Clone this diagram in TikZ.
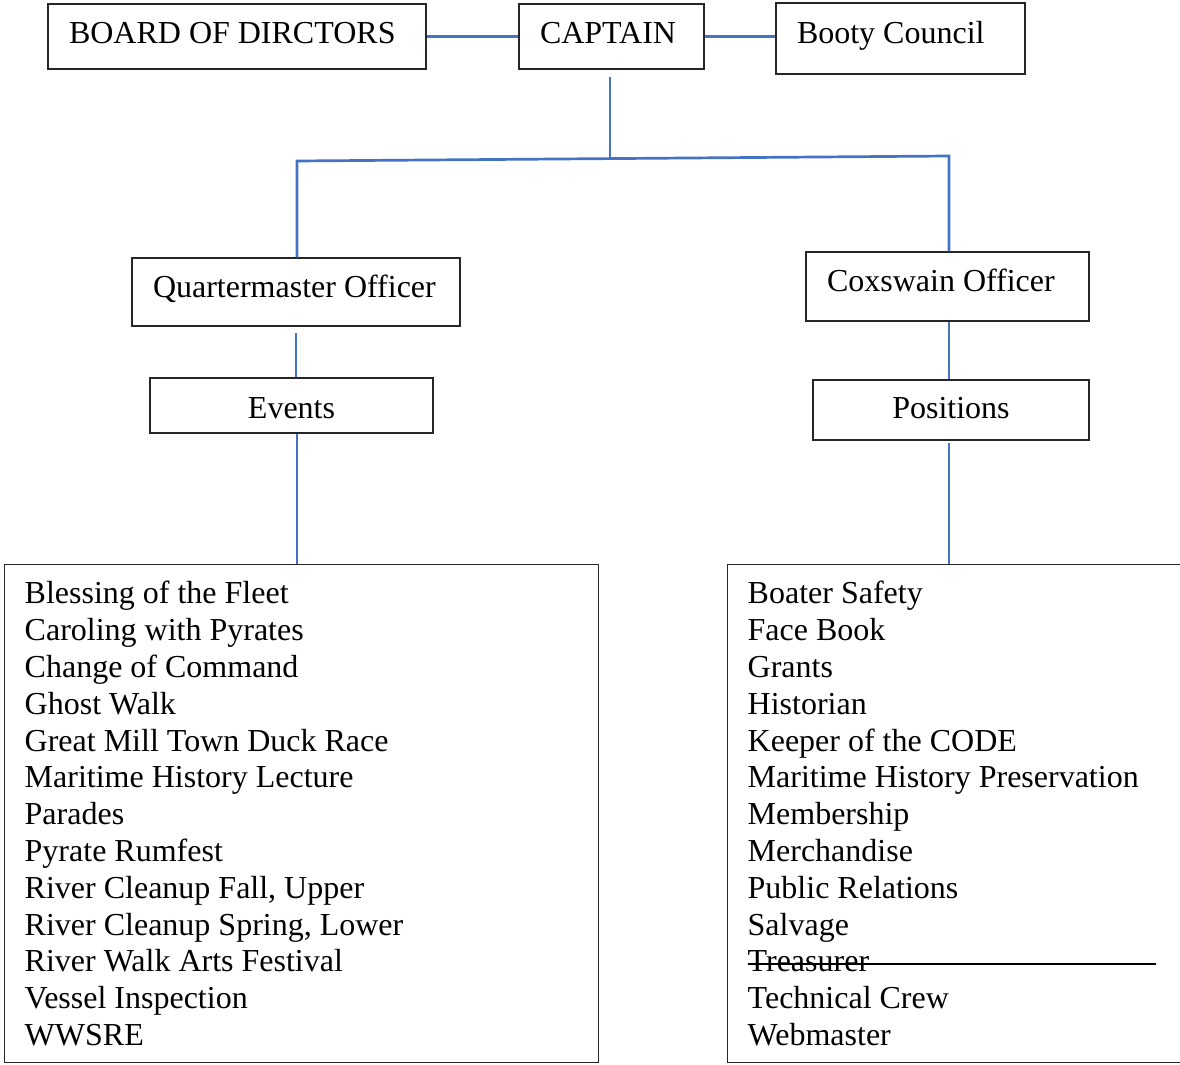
\documentclass[tikz,border=0pt]{standalone}
\usepackage{fontspec}
\setmainfont{Liberation Serif}
\definecolor{linkblue}{RGB}{68,114,196}
\newcommand{\orgfont}{\fontsize{16}{18.4}\selectfont}
\tikzstyle{box} = [rectangle,draw=black!85,line width=0.7pt,inner ysep=0pt,font=\orgfont,text height=0.95em,text depth=0.25em,execute at begin node={\spaceskip=0.25em\relax}]
\tikzstyle{lbox} = [box,inner xsep=10.5pt,align=left]
\tikzstyle{listbox} = [rectangle,draw=black!85,line width=0.7pt,inner xsep=10pt,inner ysep=0pt,align=left,anchor=north west,font=\orgfont,execute at begin node={\spaceskip=0.25em\relax}]
\tikzstyle{link} = [draw=linkblue,line width=1.35pt]

\begin{document}
\begin{tikzpicture}[x=0.5pt,y=-0.5pt]
\useasboundingbox (0,0) rectangle (1180,1065);

% Define nodes
\node[lbox, text width=168pt, minimum height=32.5pt]   (bod) at (237,36.5)   {BOARD OF DIRCTORS};
\node[lbox, text width=71.5pt, minimum height=32.5pt]  (cap) at (611.5,36.5) {CAPTAIN};
\node[lbox, text width=103.5pt, minimum height=35.5pt, text height=0.8em] (bc) at (900.5,38.5) {Booty Council};

\node[lbox, text width=143pt, minimum height=34pt, text height=0.8em]     (qm)  at (296,292)    {Quartermaster Officer};
\node[lbox, text width=120.5pt, minimum height=34.5pt, text height=0.8em] (cox) at (947.5,286.5) {Coxswain Officer};
\node[box, minimum width=141.5pt, minimum height=27.5pt, text height=1.5em] (ev)  at (291.5,405.5) {Events};
\node[box, minimum width=138pt, minimum height=30pt, text height=1.12em]    (pos) at (951,410)     {Positions};

\node[listbox, text width=277pt, minimum height=249pt] (evl) at (4,564) {%
Blessing of the Fleet\\ Caroling with Pyrates\\ Change of Command\\ Ghost Walk\\
Great Mill Town Duck Race\\ Maritime History Lecture\\ Parades\\ Pyrate Rumfest\\
River Cleanup Fall, Upper\\ River Cleanup Spring, Lower\\ River Walk Arts Festival\\
Vessel Inspection\\ WWSRE};
\node[listbox, text width=214pt, minimum height=249pt] (posl) at (727,564) {%
Boater Safety\\ Face Book\\ Grants\\ Historian\\ Keeper of the CODE\\
Maritime History Preservation\\ Membership\\ Merchandise\\ Public Relations\\ Salvage\\
\leavevmode\rlap{\rule[3.5pt]{204pt}{0.8pt}}Treasurer\\ Technical Crew\\ Webmaster};

% Edges
\coordinate (barL) at (297,161);
\coordinate (barR) at (949,156);
\path (barL) -- (barR) coordinate[pos=0.480] (barM);

\draw[link] (bod.east) -- (cap.west);
\draw[link] (cap.east) -- (cap.east -| bc.west);
\draw[link, shorten <=3.5pt] (barM |- cap.south) -- (barM);
\draw[link] (barL |- qm.north) -- (barL) -- (barR) -- (barR |- cox.north);
\draw[link, shorten <=3pt] (qm.south) -- (qm.south |- ev.north);
\draw[link] (barL |- ev.south) -- (barL |- evl.north);
\draw[link] (barR |- cox.south) -- (barR |- pos.north);
\draw[link, shorten <=1pt] (barR |- pos.south) -- (barR |- posl.north);
\end{tikzpicture}
\end{document}
